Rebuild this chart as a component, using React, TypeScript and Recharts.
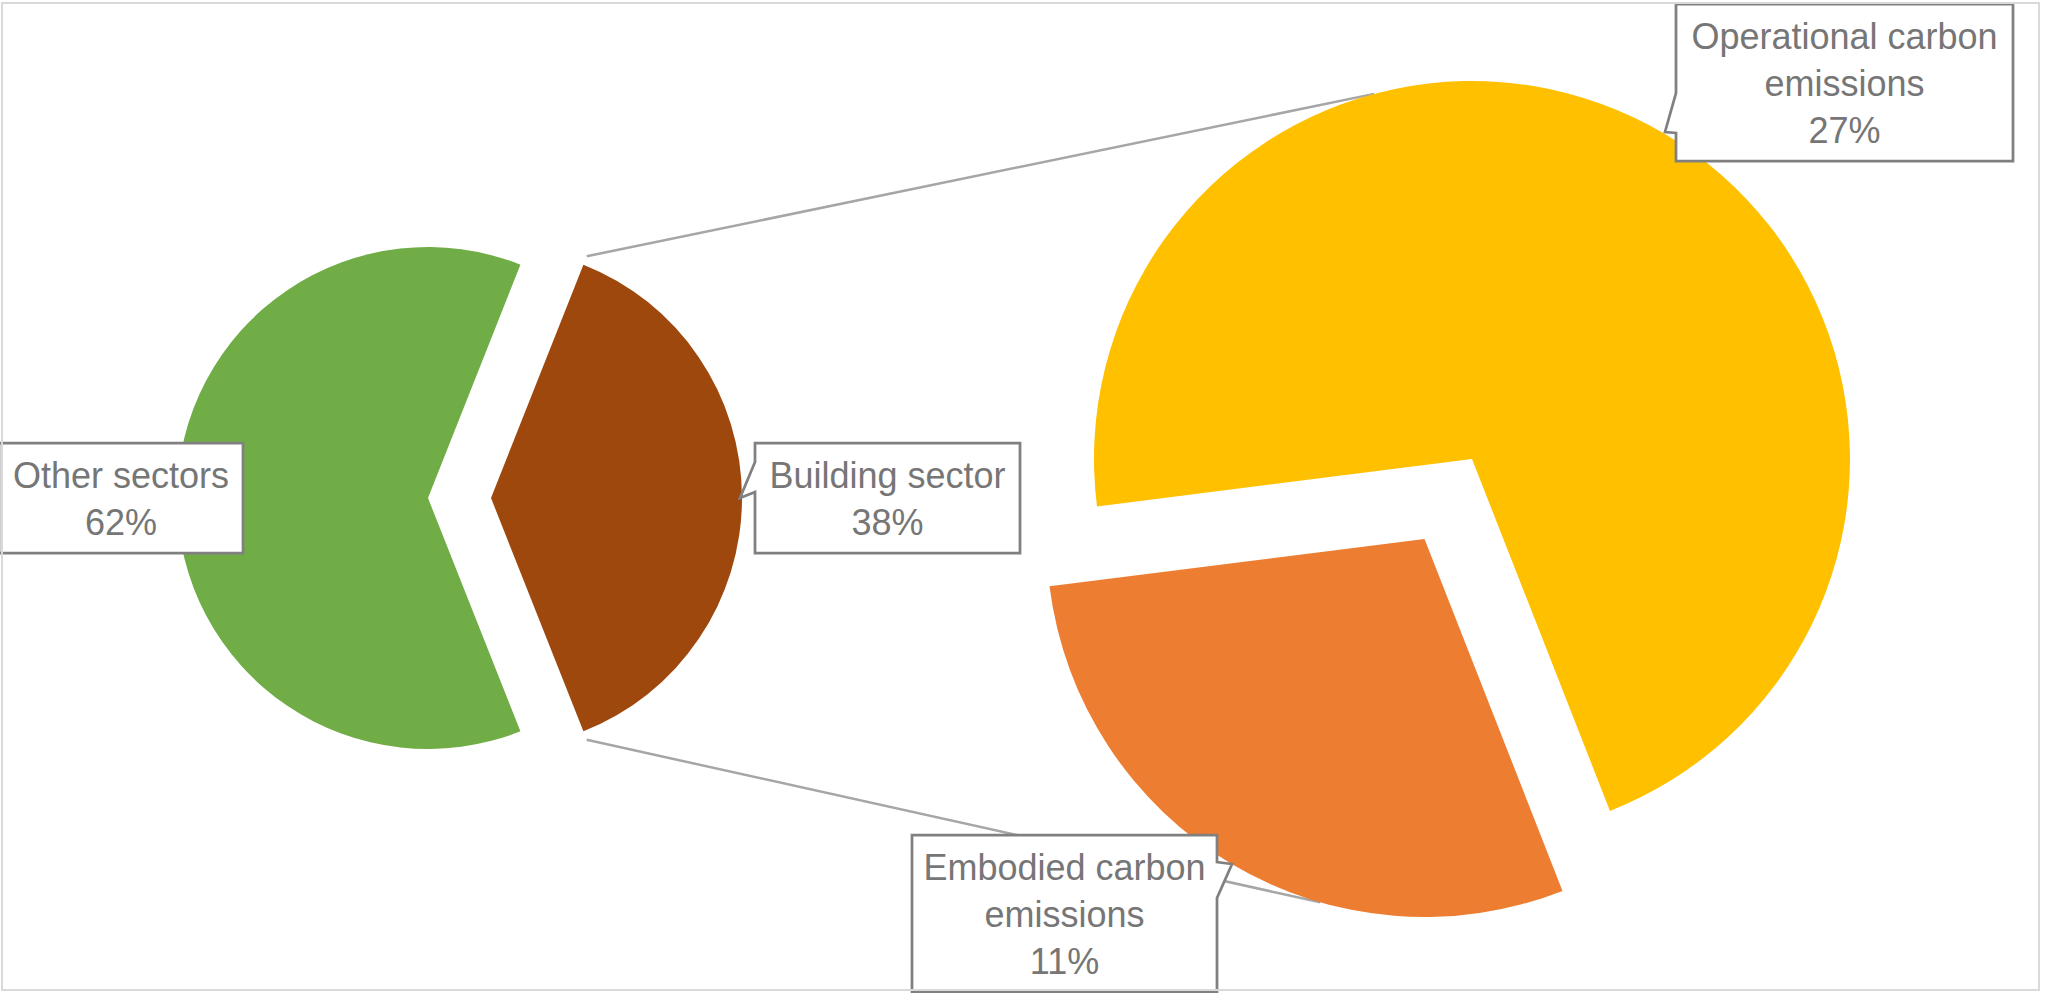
import React from "react";
import { PieChart, Pie, Cell, Customized } from "recharts";

// main pie: share of total emissions
const MAIN_CATEGORIES = ["Building sector", "Other sectors"];
const MAIN_VALUES = [38, 62];

// secondary pie: split of the building sector
const SPLIT_CATEGORIES = ["Embodied carbon emissions", "Operational carbon emissions"];
const SPLIT_VALUES = [11, 27];

const COLORS: Record<string, string> = {
  "Other sectors": "#70AD47",
  "Building sector": "#9E480E",
  "Operational carbon emissions": "#FFC000",
  "Embodied carbon emissions": "#ED7D31",
};

const mainData = MAIN_CATEGORIES.map((name, i) => ({ name, value: MAIN_VALUES[i] }));
const splitData = SPLIT_CATEGORIES.map((name, i) => ({ name, value: SPLIT_VALUES[i] }));

const W = 2046;
const H = 993;

const MAIN = { cx: 428, cy: 498, r: 251 };
const SPLIT = { cx: 1472, cy: 459, r: 378 };

// exploded slices and how far they are pulled out
const MAIN_PULLED = "Building sector";
const MAIN_PULL = 63;
const SPLIT_PULLED = "Embodied carbon emissions";
const SPLIT_PULL = 93;

const mainTotal = MAIN_VALUES.reduce((a, b) => a + b, 0);
const buildingSpan = (360 * MAIN_VALUES[0]) / mainTotal;
const MAIN_START = -buildingSpan / 2;
const SPLIT_START = 187.2;

const splitTotal = SPLIT_VALUES.reduce((a, b) => a + b, 0);
const embodiedMid = SPLIT_START + (180 * SPLIT_VALUES[0]) / splitTotal;

const RAD = Math.PI / 180;
const polar = (cx: number, cy: number, r: number, a: number) => ({
  x: cx + r * Math.cos(-a * RAD),
  y: cy + r * Math.sin(-a * RAD),
});

const mainPulledCenter = polar(MAIN.cx, MAIN.cy, MAIN_PULL, MAIN_START + buildingSpan / 2);
const splitPulledCenter = polar(SPLIT.cx, SPLIT.cy, SPLIT_PULL, embodiedMid);

// callout boxes, keyed by category
type Callout = {
  x: number;
  y: number;
  w: number;
  pointer?: { side: "left" | "right"; a: number; b: number; tx: number; ty: number };
};
const CALLOUTS: Record<string, Callout> = {
  "Other sectors": { x: -1, y: 443, w: 244 },
  "Building sector": {
    x: 755,
    y: 443,
    w: 265,
    pointer: { side: "left", a: 462, b: 492, tx: 740, ty: 498 },
  },
  "Operational carbon emissions": {
    x: 1676,
    y: 4,
    w: 337,
    pointer: { side: "left", a: 93, b: 133, tx: 1665, ty: 132 },
  },
  "Embodied carbon emissions": {
    x: 912,
    y: 835,
    w: 305,
    pointer: { side: "right", a: 862, b: 898, tx: 1232, ty: 864 },
  },
};

const FONT = "'Liberation Sans', Arial, sans-serif";
const LINE_H = 47;

const splitName = (name: string) => {
  if (name.length <= 20) return [name];
  const i = name.lastIndexOf(" ");
  return [name.slice(0, i), name.slice(i + 1)];
};

const calloutPath = (c: Callout, h: number) => {
  const { x, y, w, pointer: p } = c;
  if (!p) return `M${x},${y}H${x + w}V${y + h}H${x}Z`;
  if (p.side === "left")
    return `M${x},${y}H${x + w}V${y + h}H${x}V${p.b}L${p.tx},${p.ty}L${x},${p.a}Z`;
  return `M${x},${y}H${x + w}V${p.a}L${p.tx},${p.ty}L${x + w},${p.b}V${y + h}H${x}Z`;
};

const renderLabel = (props: any) => {
  const name = props.name ?? props.payload?.name;
  const c = CALLOUTS[name];
  if (!c) return null;
  const lines = [...splitName(name), `${props.value}%`];
  const h = 63 + LINE_H * (lines.length - 1);
  return (
    <g>
      <path d={calloutPath(c, h)} fill="#fff" stroke="#808080" strokeWidth={2.75} />
      {lines.map((t, i) => (
        <text
          key={i}
          x={c.x + c.w / 2}
          y={c.y + 45 + LINE_H * i}
          textAnchor="middle"
          fontFamily={FONT}
          fontSize={36}
          fill="#767676"
        >
          {t}
        </text>
      ))}
    </g>
  );
};

// grey lines joining the building slice to the secondary pie
const Connectors = () => {
  const b = mainPulledCenter;
  const top0 = polar(b.x, b.y, MAIN.r + 9, MAIN_START + buildingSpan);
  const bot0 = polar(b.x, b.y, MAIN.r + 9, MAIN_START);
  const top1 = polar(SPLIT.cx, SPLIT.cy, SPLIT.r, 105);
  const e = splitPulledCenter;
  const bot1 = polar(e.x, e.y, SPLIT.r, 254);
  return (
    <g stroke="#A6A6A6" strokeWidth={2.5}>
      <line x1={top0.x} y1={top0.y} x2={top1.x} y2={top1.y} />
      <line x1={bot0.x} y1={bot0.y} x2={bot1.x} y2={bot1.y} />
    </g>
  );
};

export default function App() {
  return (
    <div style={{ position: "absolute", left: 0, top: 0, width: W, height: H, background: "#fff" }}>
      <PieChart width={W} height={H} margin={{ top: 0, right: 0, bottom: 0, left: 0 }}>
        <Customized component={Connectors} />
        {/* main pie, pulled slice drawn separately */}
        <Pie
          data={mainData}
          dataKey="value"
          nameKey="name"
          cx={MAIN.cx}
          cy={MAIN.cy}
          outerRadius={MAIN.r}
          startAngle={MAIN_START}
          endAngle={MAIN_START + 360}
          stroke="none"
          label={renderLabel}
          labelLine={false}
          isAnimationActive={false}
        >
          {mainData.map((d) => (
            <Cell key={d.name} fill={d.name === MAIN_PULLED ? "none" : COLORS[d.name]} />
          ))}
        </Pie>
        <Pie
          data={mainData}
          dataKey="value"
          nameKey="name"
          cx={mainPulledCenter.x}
          cy={mainPulledCenter.y}
          outerRadius={MAIN.r}
          startAngle={MAIN_START}
          endAngle={MAIN_START + 360}
          stroke="none"
          labelLine={false}
          isAnimationActive={false}
        >
          {mainData.map((d) => (
            <Cell key={d.name} fill={d.name === MAIN_PULLED ? COLORS[d.name] : "none"} />
          ))}
        </Pie>
        {/* secondary pie */}
        <Pie
          data={splitData}
          dataKey="value"
          nameKey="name"
          cx={splitPulledCenter.x}
          cy={splitPulledCenter.y}
          outerRadius={SPLIT.r}
          startAngle={SPLIT_START}
          endAngle={SPLIT_START + 360}
          stroke="none"
          labelLine={false}
          isAnimationActive={false}
        >
          {splitData.map((d) => (
            <Cell key={d.name} fill={d.name === SPLIT_PULLED ? COLORS[d.name] : "none"} />
          ))}
        </Pie>
        <Pie
          data={splitData}
          dataKey="value"
          nameKey="name"
          cx={SPLIT.cx}
          cy={SPLIT.cy}
          outerRadius={SPLIT.r}
          startAngle={SPLIT_START}
          endAngle={SPLIT_START + 360}
          stroke="none"
          label={renderLabel}
          labelLine={false}
          isAnimationActive={false}
        >
          {splitData.map((d) => (
            <Cell key={d.name} fill={d.name === SPLIT_PULLED ? "none" : COLORS[d.name]} />
          ))}
        </Pie>
      </PieChart>
      <div
        style={{
          position: "absolute",
          left: 1,
          top: 2,
          width: 2039,
          height: 989,
          boxSizing: "border-box",
          border: "2px solid #D9D9D9",
          pointerEvents: "none",
        }}
      />
    </div>
  );
}
